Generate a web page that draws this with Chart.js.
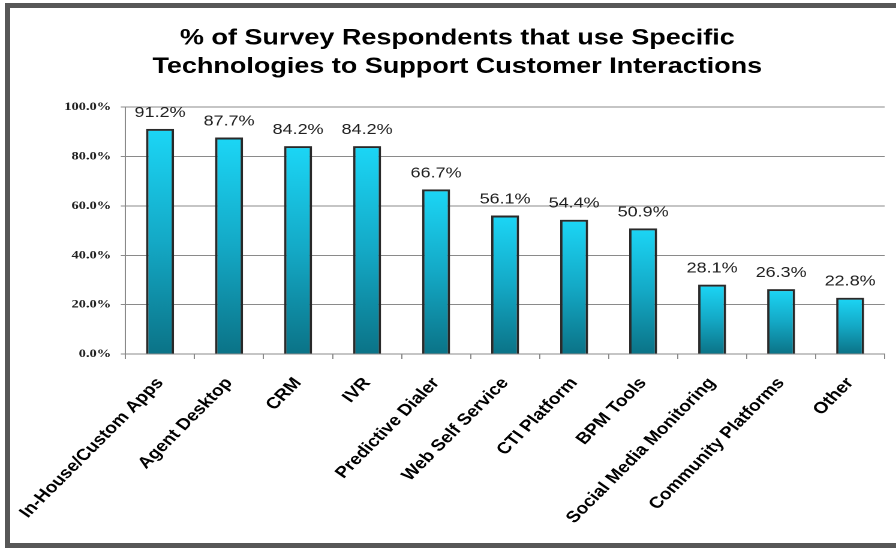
<!DOCTYPE html>
<html>
<head>
<meta charset="utf-8">
<script src="https://cdn.jsdelivr.net/npm/chart.js@4.4.1/dist/chart.umd.min.js"></script>
<style>
  html, body { margin: 0; padding: 0; background: #fff; overflow: hidden; }
  .frame { position: absolute; left: 5px; top: 3px; width: 910px; height: 545px; box-sizing: border-box; border: 5px solid #575757; }
  /* chart is laid out narrow and stretched sideways, like the wide lettering of the original */
  .wrap { position: absolute; left: 0; top: 0; width: 747px; height: 548px; transform-origin: 0 0; transform: scaleX(1.1995); }
</style>
</head>
<body>
<div class="frame"></div>
<div class="wrap"><canvas id="tech-chart"></canvas></div>
<script>
const categories = ['In-House/Custom Apps', 'Agent Desktop', 'CRM', 'IVR', 'Predictive Dialer', 'Web Self Service',
  'CTI Platform', 'BPM Tools', 'Social Media Monitoring', 'Community Platforms', 'Other']
const values = [91.2, 87.7, 84.2, 84.2, 66.7, 56.1, 54.4, 50.9, 28.1, 26.3, 22.8]
const yTicks = [0, 20, 40, 60, 80, 100]
const titleLines = ['% of Survey Respondents that use Specific', 'Technologies to Support Customer Interactions']

const gridGray = '#8a8a8a'

// cyan to teal fade for each bar, from its own top down to the baseline
function barFill(c) {
  const chart = c.chart
  if (!chart.chartArea || c.dataIndex === undefined) return '#17b6d4'
  const y = chart.scales.y
  const top = y.getPixelForValue(values[c.dataIndex])
  const base = y.getPixelForValue(0)
  const g = chart.ctx.createLinearGradient(0, top, 0, base)
  g.addColorStop(0, '#1cd6f6')
  g.addColorStop(0.5, '#14a9c6')
  g.addColorStop(1, '#0b7387')
  return g
}

const barLabels = {
  id: 'barLabels',
  beforeDatasetsDraw(chart) {
    const ctx = chart.ctx
    ctx.save()
    ctx.shadowColor = 'rgba(0,0,0,0.25)'
    ctx.shadowBlur = 4
    ctx.shadowOffsetX = 1
  },
  afterDatasetsDraw(chart) {
    const ctx = chart.ctx
    ctx.restore()
    const meta = chart.getDatasetMeta(0)
    ctx.save()
    ctx.font = '15px "Liberation Sans", Arial, sans-serif'
    ctx.fillStyle = '#222'
    ctx.textAlign = 'center'
    ctx.textBaseline = 'alphabetic'
    meta.data.forEach((bar, i) => {
      ctx.fillText(values[i].toFixed(1) + '%', bar.x, bar.y - 12)
    })
    ctx.restore()
  }
}

const ctx = document.getElementById('tech-chart')

new Chart(ctx, {
  type: 'bar',
  data: {
    labels: categories,
    datasets: [{
      data: values,
      backgroundColor: barFill,
      borderColor: '#2b2b2b',
      borderWidth: 2,
      categoryPercentage: 1,
      barPercentage: 0.405,
    }],
  },
  options: {
    responsive: true,
    maintainAspectRatio: false,
    animation: false,
    devicePixelRatio: 2,
    layout: { padding: { left: 25, right: 9.5, top: 0, bottom: 0 } },
    plugins: {
      legend: { display: false },
      tooltip: { enabled: false },
      title: {
        display: true,
        text: titleLines,
        color: '#000',
        font: { family: '"Liberation Sans", Arial, sans-serif', size: 22.5, weight: 'bold', lineHeight: 1.27 },
        padding: { top: 24, bottom: 26 },
      },
    },
    scales: {
      x: {
        grid: { drawOnChartArea: false, drawTicks: true, tickLength: 5, color: gridGray },
        border: { display: true, color: gridGray },
        ticks: {
          autoSkip: false,
          minRotation: 50,
          maxRotation: 50,
          padding: 15,
          color: '#000',
          font: { family: '"Liberation Sans", Arial, sans-serif', size: 16, weight: 'bold' },
        },
        afterFit(scale) { scale.height = 194 },
      },
      y: {
        min: 0,
        max: 100,
        afterBuildTicks(scale) { scale.ticks = yTicks.map(v => ({ value: v })) },
        grid: { color: gridGray, tickLength: 4 },
        border: { display: true, color: gridGray },
        ticks: {
          padding: 8,
          color: '#222',
          font: { family: '"Liberation Serif", "Times New Roman", serif', size: 12, weight: 'bold' },
          callback: v => v.toFixed(1) + '%',
        },
        afterFit(scale) { scale.width = 79 },
      },
    },
  },
  plugins: [barLabels],
})
</script>
</body>
</html>
